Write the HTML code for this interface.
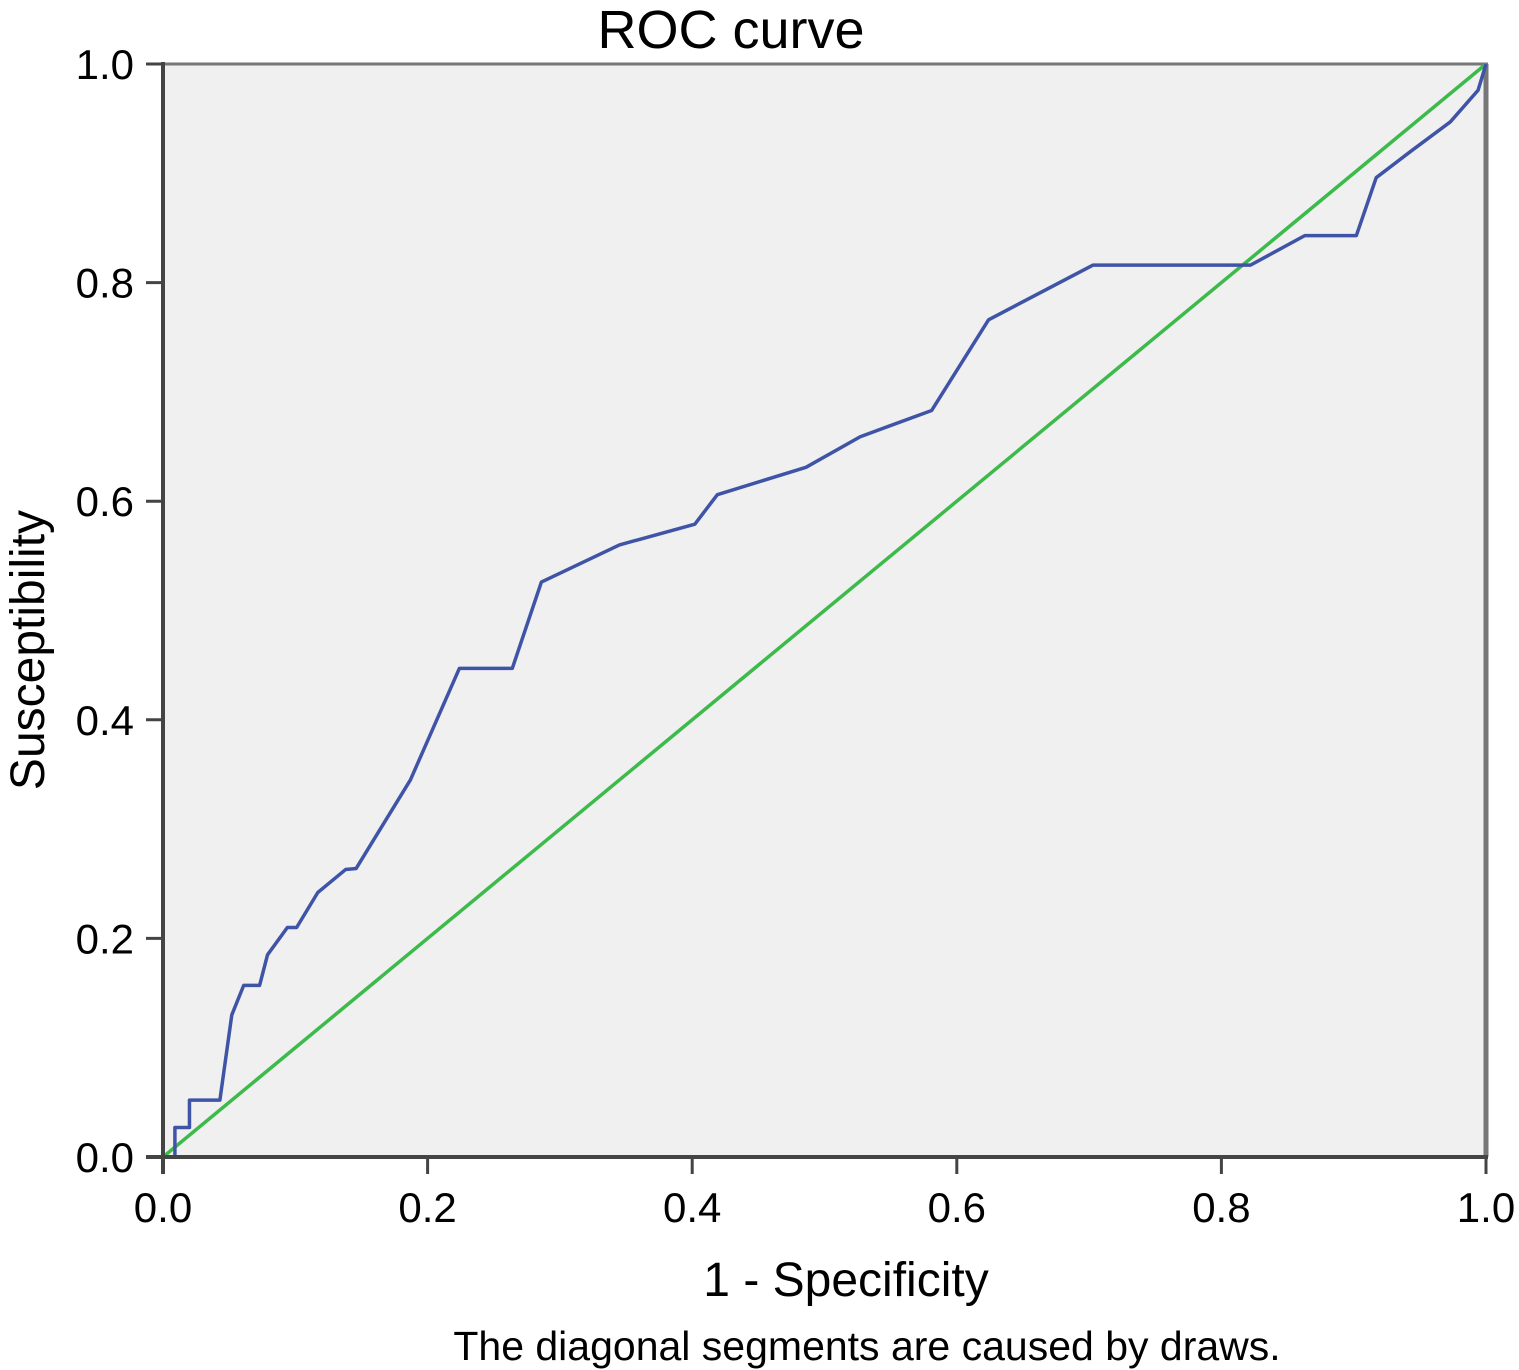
<!DOCTYPE html>
<html><head><meta charset="utf-8"><style>
html,body{margin:0;padding:0;background:#fff;}
svg{display:block;font-family:"Liberation Sans",Arial,sans-serif;}
</style></head><body>
<svg id="chart" width="1519" height="1370" viewBox="0 0 1519 1370" xmlns="http://www.w3.org/2000/svg">
<rect x="163" y="64" width="1323" height="1093" fill="#f0f0f0"/>
<line x1="163" y1="64" x2="1488" y2="64" stroke="#777" stroke-width="3"/>
<line x1="1486" y1="64" x2="1486" y2="1157" stroke="#777" stroke-width="5"/>
<g id="ticks"></g>
<g id="series"></g>
<line x1="163" y1="62" x2="163" y2="1174" stroke="#444" stroke-width="4"/>
<line x1="146" y1="1157" x2="1488" y2="1157" stroke="#444" stroke-width="4"/>
<text x="731" y="48" font-size="54" text-anchor="middle" fill="#000">ROC curve</text>
<text x="846" y="1296" font-size="48" text-anchor="middle" fill="#000">1 - Specificity</text>
<text transform="translate(44,650) rotate(-90)" font-size="48" text-anchor="middle" fill="#000">Susceptibility</text>
<text x="867" y="1360" font-size="41" text-anchor="middle" fill="#000">The diagonal segments are caused by draws.</text>
</svg>
<script>
const xTicks = [0, 0.2, 0.4, 0.6, 0.8, 1.0];
const yTicks = [0, 0.2, 0.4, 0.6, 0.8, 1.0];
const tickLabels = ["0.0", "0.2", "0.4", "0.6", "0.8", "1.0"];
const rocX = [0,0.009,0.009,0.020,0.020,0.043,0.052,0.061,0.073,0.079,0.094,0.101,0.117,0.138,0.146,0.187,0.224,0.264,0.286,0.345,0.402,0.419,0.486,0.527,0.581,0.624,0.703,0.822,0.863,0.902,0.917,0.943,0.973,0.994,1];
const rocY = [0,0,0.027,0.027,0.052,0.052,0.130,0.157,0.157,0.185,0.210,0.210,0.242,0.263,0.264,0.345,0.447,0.447,0.526,0.560,0.579,0.606,0.631,0.659,0.683,0.766,0.816,0.816,0.843,0.843,0.896,0.920,0.947,0.976,1];
const refX = [0, 1];
const refY = [0, 1];

const X0 = 163, X1 = 1486, Y0 = 1157, Y1 = 64;
const sx = v => X0 + v * (X1 - X0);
const sy = v => Y0 - v * (Y0 - Y1);
const NS = "http://www.w3.org/2000/svg";
const ticks = document.getElementById('ticks');
const series = document.getElementById('series');

xTicks.forEach((v, i) => {
  const l = document.createElementNS(NS, 'line');
  
  
  l.setAttribute('x1', sx(v)); l.setAttribute('x2', sx(v));
  l.setAttribute('y1', Y0); l.setAttribute('y2', Y0 + 17);
  l.setAttribute('stroke', '#444'); l.setAttribute('stroke-width', '3');
  ticks.appendChild(l);
  const t = document.createElementNS(NS, 'text');
  
  
  t.setAttribute('x', sx(v)); t.setAttribute('y', 1222);
  t.setAttribute('font-size', '42'); t.setAttribute('text-anchor', 'middle');
  t.textContent = tickLabels[i];
  ticks.appendChild(t);
});
yTicks.forEach((v, i) => {
  const l = document.createElementNS(NS, 'line');
  
  
  l.setAttribute('x1', X0 - 17); l.setAttribute('x2', X0);
  l.setAttribute('y1', sy(v)); l.setAttribute('y2', sy(v));
  l.setAttribute('stroke', '#444'); l.setAttribute('stroke-width', '3');
  ticks.appendChild(l);
  const t = document.createElementNS(NS, 'text');
  
  
  t.setAttribute('x', 134); t.setAttribute('y', sy(v) + 15);
  t.setAttribute('font-size', '42'); t.setAttribute('text-anchor', 'end');
  t.textContent = tickLabels[i];
  ticks.appendChild(t);
});

function poly(xs, ys, color, name) {
  const p = document.createElementNS(NS, 'polyline');
  
  
  p.setAttribute('points', xs.map((x, i) => sx(x) + ',' + sy(ys[i])).join(' '));
  p.setAttribute('fill', 'none');
  p.setAttribute('stroke', color);
  p.setAttribute('stroke-width', '3.5');
  p.setAttribute('stroke-linejoin', 'round');
  series.appendChild(p);
}
poly(refX, refY, '#3cba4a', 'reference-line');
poly(rocX, rocY, '#3f54a6', 'roc-curve');
</script>
</body></html>
